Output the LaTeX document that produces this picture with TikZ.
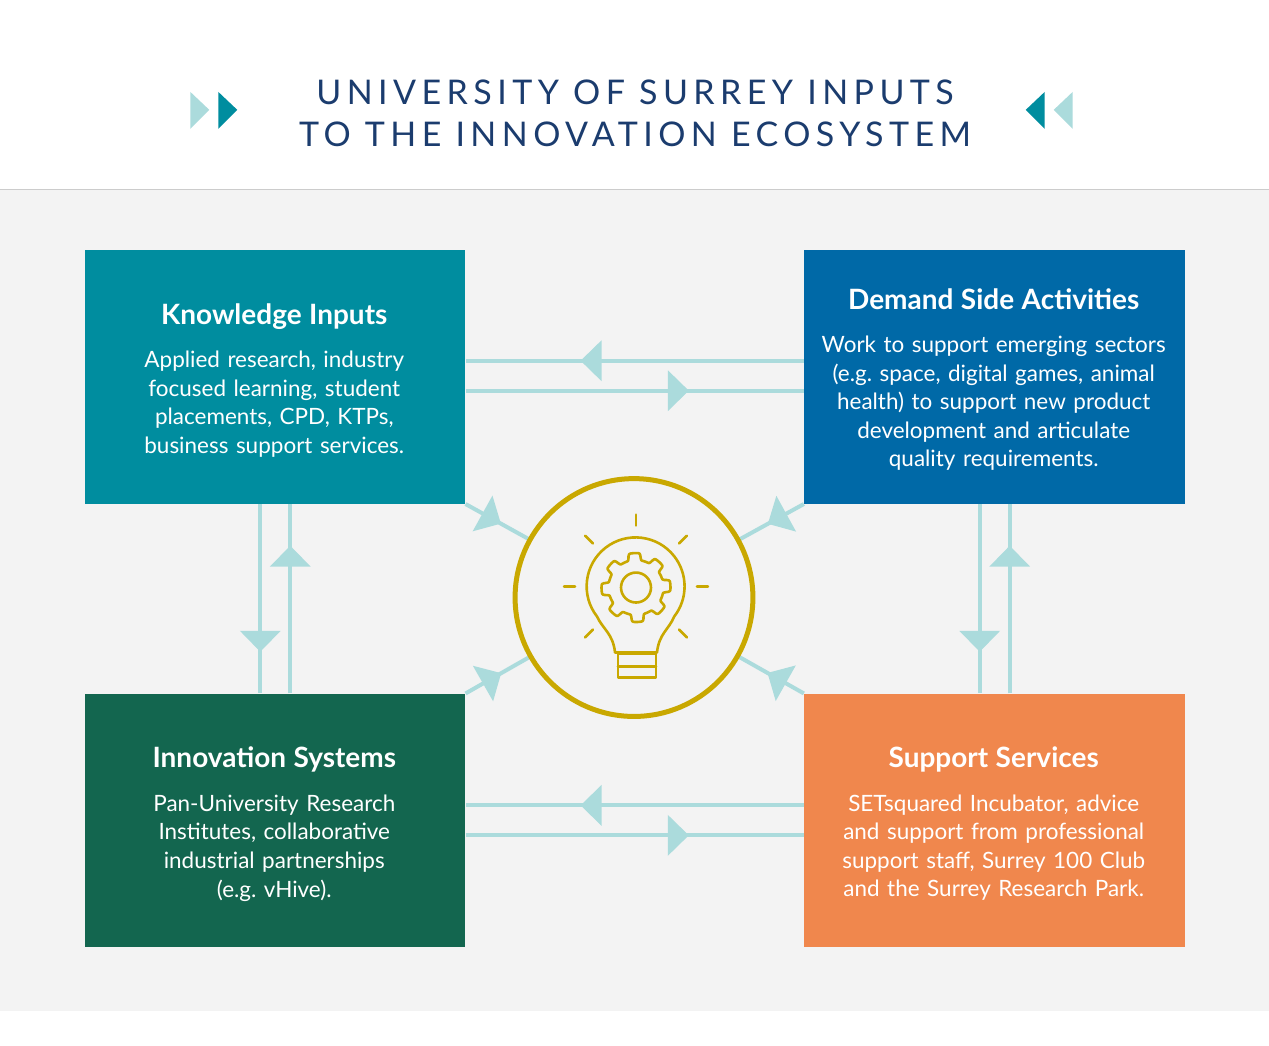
\documentclass[tikz,border=0pt]{standalone}
\usepackage{fontspec}
\setmainfont{Lato}
\usepackage{tikz}
\usetikzlibrary{arrows.meta, decorations.markings}
\frenchspacing

\definecolor{panelgrey}{HTML}{F3F3F3}
\definecolor{linkcyan}{HTML}{ABDBDC}
\definecolor{titleblue}{HTML}{1B3C6E}
\definecolor{knowteal}{HTML}{008D9F}
\definecolor{demandblue}{HTML}{0069A7}
\definecolor{innovgreen}{HTML}{13664F}
\definecolor{supportorange}{HTML}{F0874D}
\definecolor{bulbgold}{HTML}{C9A800}

\newcommand{\boxhead}[1]{{\fontsize{28}{32}\selectfont\bfseries #1}}

\begin{document}
\begin{tikzpicture}[
    x=1pt, y=-1pt,
    box/.style={draw=none, minimum width=381pt, minimum height=254pt, anchor=north west, inner sep=0pt},
    boxtext/.style={text=white, align=center, text width=370pt, anchor=north, font=\fontsize{22.5}{28.6}\selectfont},
    link/.style={draw=linkcyan, line width=4pt, postaction={decorate},
        decoration={markings, mark=at position #1 with {\arrow{Triangle[length=21pt, width=40pt, fill=linkcyan]}}}},
    link/.default=0.66,
    icon/.style={draw=bulbgold, line width=2.6pt, line cap=round, line join=round}
]

% Background
\fill[white] (0,0) rectangle (1269,1046);
\fill[panelgrey] (0,190) rectangle (1269,1012);
\draw[black!20, line width=1pt] (0,190) -- (1269,190);

% Title
\node[text=titleblue, align=center, font=\addfontfeatures{LetterSpace=16}\fontsize{34}{42}\selectfont] (title) at (635,113) {UNIVERSITY OF SURREY INPUTS\\TO THE INNOVATION ECOSYSTEM};
\fill[linkcyan] (190,92) -- (209,110) -- (190,129) -- cycle;
\fill[knowteal] (218,92) -- (237,110) -- (218,129) -- cycle;
\fill[knowteal] (1045,92) -- (1026,110) -- (1045,129) -- cycle;
\fill[linkcyan] (1073,92) -- (1054,110) -- (1073,129) -- cycle;

% Boxes
\node[box, fill=knowteal] (know) at (84,250) {};
\node[box, fill=demandblue] (demand) at (804,250) {};
\node[box, fill=innovgreen] (innov) at (84,694) {};
\node[box, fill=supportorange] (support) at (804,694) {};

% Connectors between boxes
\coordinate (k1) at (know.north east |- 0,361);
\coordinate (d1) at (demand.north west |- 0,361);
\coordinate (k2) at (know.north east |- 0,391);
\coordinate (d2) at (demand.north west |- 0,391);
\coordinate (i1) at (innov.north east |- 0,806);
\coordinate (s1) at (support.north west |- 0,806);
\coordinate (i2) at (innov.north east |- 0,836);
\coordinate (s2) at (support.north west |- 0,836);
\draw[link] (d1) -- (k1);
\draw[link] (k2) -- (d2);
\draw[link] (s1) -- (i1);
\draw[link] (i2) -- (s2);
\draw[link=0.78] (know.south west -| 260,0) coordinate (k3) -- (innov.north west -| 260,0) coordinate (i3);
\draw[link=0.78] (innov.north west -| 290,0) coordinate (i4) -- (know.south west -| 290,0) coordinate (k4);
\draw[link=0.78] (demand.south west -| 980,0) coordinate (d3) -- (support.north west -| 980,0) coordinate (s3);
\draw[link=0.78] (support.north west -| 1010,0) coordinate (s4) -- (demand.south west -| 1010,0) coordinate (d4);

% Hub
\node[circle, minimum size=238pt] (hub) at (634,598) {};
\draw[link=0.55] (know.south east) -- (hub);
\draw[link=0.55] (demand.south west) -- (hub);
\draw[link=0.55] (innov.north east) -- (hub);
\draw[link=0.55] (support.north west) -- (hub);
\node[circle, draw=bulbgold, line width=5pt, minimum size=238pt, fill=panelgrey] at (hub) {};

% Bulb icon
\draw[icon] (615,653) .. controls (613,634) and (603,630) .. (597,617)
    arc[start angle=142, end angle=398, radius=49] .. controls (669,630) and (659,634) .. (657,653) -- cycle;
\draw[icon] (618,654) rectangle (656,678);
\draw[icon] (618,667) -- (656,667);
\draw[icon] plot[domain=0:360, samples=241, smooth] ({636+(31+3.5*tanh(4*cos(8*\x+22.5)))*cos(\x)}, {588+(31+3.5*tanh(4*cos(8*\x+22.5)))*sin(\x)}) -- cycle;
\draw[icon] (636,588) circle[radius=15];
\foreach \a in {-90,-135,-45,180,0,135,45} {
    \draw[icon] ({636+61*cos(\a)},{587+61*sin(\a)}) -- ({636+72*cos(\a)},{587+72*sin(\a)});
}

% Texts
\node[boxtext] (knowtext) at (274,300) {\boxhead{Knowledge Inputs}\\[15pt]
    Applied research, industry\\focused learning, student\\placements, CPD, KTPs,\\business support services.};
\node[boxtext] (demandtext) at (994,285) {\boxhead{Demand Side Activities}\\[15pt]
    Work to support emerging sectors\\(e.g. space, digital games, animal\\health) to support new product\\development and articulate\\quality requirements.};
\node[boxtext] (innovtext) at (274,744) {\boxhead{Innovation Systems}\\[15pt]
    Pan-University Research\\Institutes, collaborative\\industrial partnerships\\(e.g. vHive).};
\node[boxtext] (supporttext) at (994,744) {\boxhead{Support Services}\\[15pt]
    SETsquared Incubator, advice\\and support from professional\\support staff, Surrey 100 Club\\and the Surrey Research Park.};

\end{tikzpicture}
\end{document}
